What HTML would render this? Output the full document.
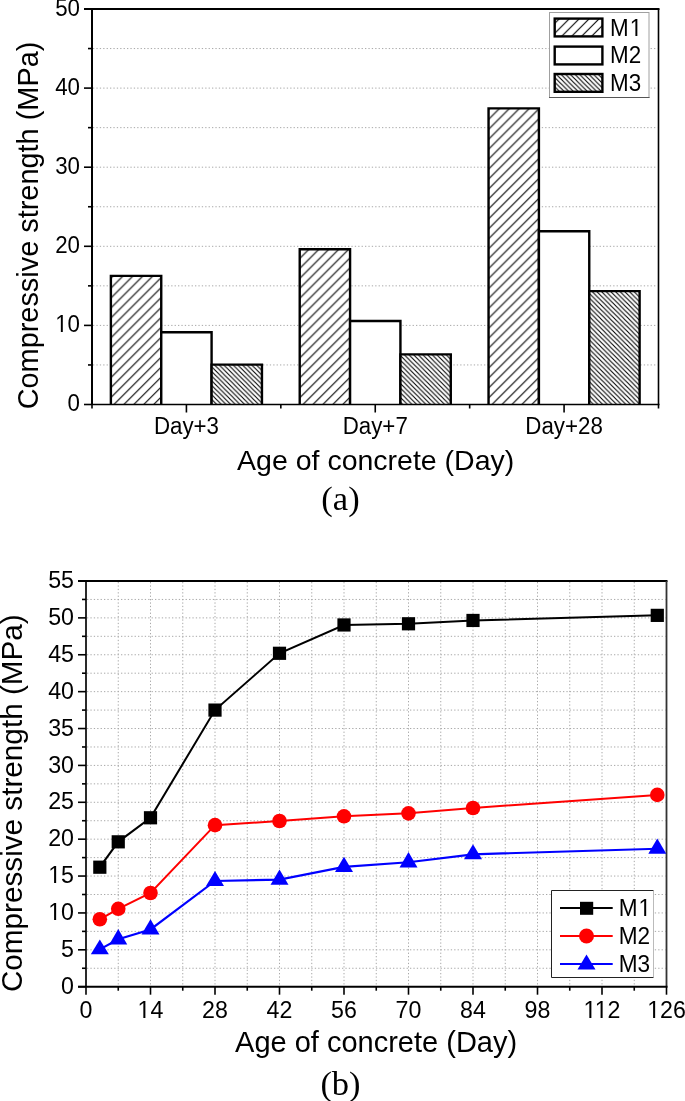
<!DOCTYPE html>
<html><head><meta charset="utf-8"><style>
html,body{margin:0;padding:0;background:#fff;width:685px;height:1101px;overflow:hidden}
svg{display:block;will-change:transform}
text{font-family:"Liberation Sans",sans-serif;fill:#000}
.tl{font-size:22.3px}
.tlb{font-size:23.2px}
.lgb{font-size:22.6px}
.lg{font-size:22.4px}
.at{font-size:28.5px}
.yt{font-size:29.7px}
.cap{font-family:"Liberation Serif",serif;font-size:34.5px}
.g{stroke:#a8a8a8;stroke-width:1;stroke-dasharray:1.3 2.1}
.ax{stroke:#000;stroke-width:2}
.axb{stroke:#000;stroke-width:1.6}
.tk{stroke:#000;stroke-width:1.6}
.bar{stroke:#000;stroke-width:2.4}
</style></head><body>
<svg width="685" height="1101" viewBox="0 0 685 1101">
<defs>
<pattern id="h1" patternUnits="userSpaceOnUse" width="9.95" height="9.95" patternTransform="translate(1.0,0)">
<rect width="9.95" height="9.95" fill="#fff"/>
<path d="M-2,11.95 L11.95,-2 M-2,2 L2,-2 M7.95,11.95 L11.95,7.95" stroke="#000" stroke-width="1.1"/>
</pattern>
<pattern id="h3" patternUnits="userSpaceOnUse" width="4.65" height="4.65" patternTransform="translate(3,0)">
<rect width="4.65" height="4.65" fill="#fff"/>
<path d="M-1,-1 L5.65,5.65 M-1,3.65 L1,5.65 M3.65,-1 L5.65,1" stroke="#000" stroke-width="1.1"/>
</pattern>
</defs>
<line x1="93" y1="364.95" x2="657.5" y2="364.95" class="g"/>
<line x1="93" y1="325.4" x2="657.5" y2="325.4" class="g"/>
<line x1="93" y1="285.85" x2="657.5" y2="285.85" class="g"/>
<line x1="93" y1="246.3" x2="657.5" y2="246.3" class="g"/>
<line x1="93" y1="206.75" x2="657.5" y2="206.75" class="g"/>
<line x1="93" y1="167.2" x2="657.5" y2="167.2" class="g"/>
<line x1="93" y1="127.65" x2="657.5" y2="127.65" class="g"/>
<line x1="93" y1="88.1" x2="657.5" y2="88.1" class="g"/>
<line x1="93" y1="48.55" x2="657.5" y2="48.55" class="g"/>
<path d="M110.88,404.5 V275.87 H161.24 V404.5" fill="url(#h1)" class="bar"/>
<path d="M161.24,404.5 V332.27 H211.59 V404.5" fill="#fff" class="bar"/>
<path d="M211.59,404.5 V364.62 H261.95 V404.5" fill="url(#h3)" class="bar"/>
<path d="M299.72,404.5 V249.21 H350.07 V404.5" fill="url(#h1)" class="bar"/>
<path d="M350.07,404.5 V320.95 H400.43 V404.5" fill="#fff" class="bar"/>
<path d="M400.43,404.5 V354.33 H450.78 V404.5" fill="url(#h3)" class="bar"/>
<path d="M488.55,404.5 V108.33 H538.91 V404.5" fill="url(#h1)" class="bar"/>
<path d="M538.91,404.5 V231.18 H589.26 V404.5" fill="#fff" class="bar"/>
<path d="M589.26,404.5 V291.13 H639.62 V404.5" fill="url(#h3)" class="bar"/>
<line x1="92" y1="9" x2="92" y2="404.5" class="ax"/>
<line x1="84" y1="9" x2="659.5" y2="9" class="ax"/>
<line x1="658.5" y1="9" x2="658.5" y2="404.5" class="axb"/>
<line x1="92" y1="404.5" x2="659.5" y2="404.5" class="axb"/>
<line x1="84" y1="404.5" x2="92" y2="404.5" class="tk"/>
<text transform="translate(80,411) scale(1,1.05)" class="tl" text-anchor="end">0</text>
<line x1="88" y1="364.95" x2="92" y2="364.95" class="tk"/>
<line x1="84" y1="325.4" x2="92" y2="325.4" class="tk"/>
<text transform="translate(80,331.9) scale(1,1.05)" class="tl" text-anchor="end">10</text>
<line x1="88" y1="285.85" x2="92" y2="285.85" class="tk"/>
<line x1="84" y1="246.3" x2="92" y2="246.3" class="tk"/>
<text transform="translate(80,252.8) scale(1,1.05)" class="tl" text-anchor="end">20</text>
<line x1="88" y1="206.75" x2="92" y2="206.75" class="tk"/>
<line x1="84" y1="167.2" x2="92" y2="167.2" class="tk"/>
<text transform="translate(80,173.7) scale(1,1.05)" class="tl" text-anchor="end">30</text>
<line x1="88" y1="127.65" x2="92" y2="127.65" class="tk"/>
<line x1="84" y1="88.1" x2="92" y2="88.1" class="tk"/>
<text transform="translate(80,94.6) scale(1,1.05)" class="tl" text-anchor="end">40</text>
<line x1="88" y1="48.55" x2="92" y2="48.55" class="tk"/>
<line x1="84" y1="9" x2="92" y2="9" class="tk"/>
<text transform="translate(80,15.5) scale(1,1.05)" class="tl" text-anchor="end">50</text>
<line x1="92" y1="404.5" x2="92" y2="408.5" class="tk"/>
<line x1="280.83" y1="404.5" x2="280.83" y2="408.5" class="tk"/>
<line x1="469.67" y1="404.5" x2="469.67" y2="408.5" class="tk"/>
<line x1="658.5" y1="404.5" x2="658.5" y2="408.5" class="tk"/>
<line x1="186.42" y1="404.5" x2="186.42" y2="412.5" class="tk"/>
<text transform="translate(186.42,433.6) scale(1,1.05)" class="tl" text-anchor="middle">Day+3</text>
<line x1="375.25" y1="404.5" x2="375.25" y2="412.5" class="tk"/>
<text transform="translate(375.25,433.6) scale(1,1.05)" class="tl" text-anchor="middle">Day+7</text>
<line x1="564.08" y1="404.5" x2="564.08" y2="412.5" class="tk"/>
<text transform="translate(564.08,433.6) scale(1,1.05)" class="tl" text-anchor="middle">Day+28</text>
<text x="375.7" y="469.8" class="at" text-anchor="middle">Age of concrete (Day)</text>
<text transform="translate(37.8,225.5) rotate(-90)" class="yt" style="font-size:28.9px" text-anchor="middle">Compressive strength (MPa)</text>
<text x="340.5" y="509.7" class="cap" text-anchor="middle">(a)</text>
<rect x="549.5" y="12.5" width="99.5" height="85" fill="#fff" stroke="#a0a0a0" stroke-width="1"/>
<line x1="549" y1="97.5" x2="649.5" y2="97.5" stroke="#555" stroke-width="1.2"/>
<rect x="554.7" y="18.6" width="47.7" height="17.8" fill="url(#h1)" class="bar"/>
<text transform="translate(610,35.7) scale(1,1.04)" class="lg" letter-spacing="1">M1</text>
<rect x="554.7" y="46.6" width="47.7" height="17.8" fill="#fff" class="bar"/>
<text transform="translate(610,62.8) scale(1,1.04)" class="lg">M2</text>
<rect x="554.7" y="74" width="47.7" height="17.8" fill="url(#h3)" class="bar"/>
<text transform="translate(610,90.5) scale(1,1.04)" class="lg">M3</text>
<line x1="118.25" y1="582" x2="118.25" y2="985.7" class="g"/>
<line x1="150.5" y1="582" x2="150.5" y2="985.7" class="g"/>
<line x1="182.75" y1="582" x2="182.75" y2="985.7" class="g"/>
<line x1="215" y1="582" x2="215" y2="985.7" class="g"/>
<line x1="247.25" y1="582" x2="247.25" y2="985.7" class="g"/>
<line x1="279.5" y1="582" x2="279.5" y2="985.7" class="g"/>
<line x1="311.75" y1="582" x2="311.75" y2="985.7" class="g"/>
<line x1="344" y1="582" x2="344" y2="985.7" class="g"/>
<line x1="376.25" y1="582" x2="376.25" y2="985.7" class="g"/>
<line x1="408.5" y1="582" x2="408.5" y2="985.7" class="g"/>
<line x1="440.75" y1="582" x2="440.75" y2="985.7" class="g"/>
<line x1="473" y1="582" x2="473" y2="985.7" class="g"/>
<line x1="505.25" y1="582" x2="505.25" y2="985.7" class="g"/>
<line x1="537.5" y1="582" x2="537.5" y2="985.7" class="g"/>
<line x1="569.75" y1="582" x2="569.75" y2="985.7" class="g"/>
<line x1="602" y1="582" x2="602" y2="985.7" class="g"/>
<line x1="634.25" y1="582" x2="634.25" y2="985.7" class="g"/>
<line x1="87" y1="968.26" x2="665.5" y2="968.26" class="g"/>
<line x1="87" y1="949.82" x2="665.5" y2="949.82" class="g"/>
<line x1="87" y1="931.38" x2="665.5" y2="931.38" class="g"/>
<line x1="87" y1="912.94" x2="665.5" y2="912.94" class="g"/>
<line x1="87" y1="894.5" x2="665.5" y2="894.5" class="g"/>
<line x1="87" y1="876.05" x2="665.5" y2="876.05" class="g"/>
<line x1="87" y1="857.61" x2="665.5" y2="857.61" class="g"/>
<line x1="87" y1="839.17" x2="665.5" y2="839.17" class="g"/>
<line x1="87" y1="820.73" x2="665.5" y2="820.73" class="g"/>
<line x1="87" y1="802.29" x2="665.5" y2="802.29" class="g"/>
<line x1="87" y1="783.85" x2="665.5" y2="783.85" class="g"/>
<line x1="87" y1="765.41" x2="665.5" y2="765.41" class="g"/>
<line x1="87" y1="746.97" x2="665.5" y2="746.97" class="g"/>
<line x1="87" y1="728.53" x2="665.5" y2="728.53" class="g"/>
<line x1="87" y1="710.09" x2="665.5" y2="710.09" class="g"/>
<line x1="87" y1="691.65" x2="665.5" y2="691.65" class="g"/>
<line x1="87" y1="673.2" x2="665.5" y2="673.2" class="g"/>
<line x1="87" y1="654.76" x2="665.5" y2="654.76" class="g"/>
<line x1="87" y1="636.32" x2="665.5" y2="636.32" class="g"/>
<line x1="87" y1="617.88" x2="665.5" y2="617.88" class="g"/>
<line x1="87" y1="599.44" x2="665.5" y2="599.44" class="g"/>
<line x1="86" y1="581" x2="86" y2="986.7" class="ax" style="stroke:#2a2a2a"/>
<line x1="78" y1="581" x2="667.5" y2="581" class="ax"/>
<line x1="666.5" y1="581" x2="666.5" y2="986.7" class="ax" style="stroke:#333;stroke-width:1.8"/>
<line x1="78" y1="986.7" x2="667.5" y2="986.7" class="ax"/>
<line x1="78" y1="986.7" x2="86" y2="986.7" class="tk"/>
<text transform="translate(74,993.9) scale(1,1.03)" class="tlb" text-anchor="end">0</text>
<line x1="82" y1="968.26" x2="86" y2="968.26" class="tk"/>
<line x1="78" y1="949.82" x2="86" y2="949.82" class="tk"/>
<text transform="translate(74,957.02) scale(1,1.03)" class="tlb" text-anchor="end">5</text>
<line x1="82" y1="931.38" x2="86" y2="931.38" class="tk"/>
<line x1="78" y1="912.94" x2="86" y2="912.94" class="tk"/>
<text transform="translate(74,920.14) scale(1,1.03)" class="tlb" text-anchor="end">10</text>
<line x1="82" y1="894.5" x2="86" y2="894.5" class="tk"/>
<line x1="78" y1="876.05" x2="86" y2="876.05" class="tk"/>
<text transform="translate(74,883.25) scale(1,1.03)" class="tlb" text-anchor="end">15</text>
<line x1="82" y1="857.61" x2="86" y2="857.61" class="tk"/>
<line x1="78" y1="839.17" x2="86" y2="839.17" class="tk"/>
<text transform="translate(74,846.37) scale(1,1.03)" class="tlb" text-anchor="end">20</text>
<line x1="82" y1="820.73" x2="86" y2="820.73" class="tk"/>
<line x1="78" y1="802.29" x2="86" y2="802.29" class="tk"/>
<text transform="translate(74,809.49) scale(1,1.03)" class="tlb" text-anchor="end">25</text>
<line x1="82" y1="783.85" x2="86" y2="783.85" class="tk"/>
<line x1="78" y1="765.41" x2="86" y2="765.41" class="tk"/>
<text transform="translate(74,772.61) scale(1,1.03)" class="tlb" text-anchor="end">30</text>
<line x1="82" y1="746.97" x2="86" y2="746.97" class="tk"/>
<line x1="78" y1="728.53" x2="86" y2="728.53" class="tk"/>
<text transform="translate(74,735.73) scale(1,1.03)" class="tlb" text-anchor="end">35</text>
<line x1="82" y1="710.09" x2="86" y2="710.09" class="tk"/>
<line x1="78" y1="691.65" x2="86" y2="691.65" class="tk"/>
<text transform="translate(74,698.85) scale(1,1.03)" class="tlb" text-anchor="end">40</text>
<line x1="82" y1="673.2" x2="86" y2="673.2" class="tk"/>
<line x1="78" y1="654.76" x2="86" y2="654.76" class="tk"/>
<text transform="translate(74,661.96) scale(1,1.03)" class="tlb" text-anchor="end">45</text>
<line x1="82" y1="636.32" x2="86" y2="636.32" class="tk"/>
<line x1="78" y1="617.88" x2="86" y2="617.88" class="tk"/>
<text transform="translate(74,625.08) scale(1,1.03)" class="tlb" text-anchor="end">50</text>
<line x1="82" y1="599.44" x2="86" y2="599.44" class="tk"/>
<line x1="78" y1="581" x2="86" y2="581" class="tk"/>
<text transform="translate(74,588.2) scale(1,1.03)" class="tlb" text-anchor="end">55</text>
<line x1="86" y1="986.7" x2="86" y2="994.7" class="tk"/>
<text transform="translate(86,1017.5) scale(1,1.03)" class="tlb" text-anchor="middle">0</text>
<line x1="118.25" y1="986.7" x2="118.25" y2="990.7" class="tk"/>
<line x1="150.5" y1="986.7" x2="150.5" y2="994.7" class="tk"/>
<text transform="translate(150.5,1017.5) scale(1,1.03)" class="tlb" text-anchor="middle">14</text>
<line x1="182.75" y1="986.7" x2="182.75" y2="990.7" class="tk"/>
<line x1="215" y1="986.7" x2="215" y2="994.7" class="tk"/>
<text transform="translate(215,1017.5) scale(1,1.03)" class="tlb" text-anchor="middle">28</text>
<line x1="247.25" y1="986.7" x2="247.25" y2="990.7" class="tk"/>
<line x1="279.5" y1="986.7" x2="279.5" y2="994.7" class="tk"/>
<text transform="translate(279.5,1017.5) scale(1,1.03)" class="tlb" text-anchor="middle">42</text>
<line x1="311.75" y1="986.7" x2="311.75" y2="990.7" class="tk"/>
<line x1="344" y1="986.7" x2="344" y2="994.7" class="tk"/>
<text transform="translate(344,1017.5) scale(1,1.03)" class="tlb" text-anchor="middle">56</text>
<line x1="376.25" y1="986.7" x2="376.25" y2="990.7" class="tk"/>
<line x1="408.5" y1="986.7" x2="408.5" y2="994.7" class="tk"/>
<text transform="translate(408.5,1017.5) scale(1,1.03)" class="tlb" text-anchor="middle">70</text>
<line x1="440.75" y1="986.7" x2="440.75" y2="990.7" class="tk"/>
<line x1="473" y1="986.7" x2="473" y2="994.7" class="tk"/>
<text transform="translate(473,1017.5) scale(1,1.03)" class="tlb" text-anchor="middle">84</text>
<line x1="505.25" y1="986.7" x2="505.25" y2="990.7" class="tk"/>
<line x1="537.5" y1="986.7" x2="537.5" y2="994.7" class="tk"/>
<text transform="translate(537.5,1017.5) scale(1,1.03)" class="tlb" text-anchor="middle">98</text>
<line x1="569.75" y1="986.7" x2="569.75" y2="990.7" class="tk"/>
<line x1="602" y1="986.7" x2="602" y2="994.7" class="tk"/>
<text transform="translate(602,1017.5) scale(1,1.03)" class="tlb" text-anchor="middle">112</text>
<line x1="634.25" y1="986.7" x2="634.25" y2="990.7" class="tk"/>
<line x1="666.5" y1="986.7" x2="666.5" y2="994.7" class="tk"/>
<text transform="translate(666.5,1017.5) scale(1,1.03)" class="tlb" text-anchor="middle">126</text>
<text x="376.1" y="1052.3" class="at" style="font-size:29px" text-anchor="middle">Age of concrete (Day)</text>
<text transform="translate(21.8,803.2) rotate(-90)" class="yt" text-anchor="middle">Compressive strength (MPa)</text>
<text x="340.5" y="1094.9" class="cap" text-anchor="middle">(b)</text>
<polyline points="99.82,867.2 118.25,841.83 150.5,817.78 215,710.09 279.5,653.29 344,624.96 408.5,623.78 473,620.46 657.29,615.37" fill="none" stroke="#000" stroke-width="2"/>
<polyline points="99.82,919.28 118.25,908.81 150.5,893.02 215,825.16 279.5,821.03 344,816.31 408.5,813.36 473,807.97 657.29,794.91" fill="none" stroke="#f00" stroke-width="2"/>
<polyline points="99.82,949.4 118.25,939.3 150.5,929.5 215,880.97 279.5,879.67 344,866.83 408.5,862.27 473,854.3 657.29,848.73" fill="none" stroke="#00f" stroke-width="2.2"/>
<rect x="93.22" y="860.6" width="13.2" height="13.2" fill="#000"/>
<rect x="111.65" y="835.23" width="13.2" height="13.2" fill="#000"/>
<rect x="143.9" y="811.18" width="13.2" height="13.2" fill="#000"/>
<rect x="208.4" y="703.49" width="13.2" height="13.2" fill="#000"/>
<rect x="272.9" y="646.69" width="13.2" height="13.2" fill="#000"/>
<rect x="337.4" y="618.36" width="13.2" height="13.2" fill="#000"/>
<rect x="401.9" y="617.18" width="13.2" height="13.2" fill="#000"/>
<rect x="466.4" y="613.86" width="13.2" height="13.2" fill="#000"/>
<rect x="650.69" y="608.77" width="13.2" height="13.2" fill="#000"/>
<circle cx="99.82" cy="919.28" r="7.3" fill="#f00"/>
<circle cx="118.25" cy="908.81" r="7.3" fill="#f00"/>
<circle cx="150.5" cy="893.02" r="7.3" fill="#f00"/>
<circle cx="215" cy="825.16" r="7.3" fill="#f00"/>
<circle cx="279.5" cy="821.03" r="7.3" fill="#f00"/>
<circle cx="344" cy="816.31" r="7.3" fill="#f00"/>
<circle cx="408.5" cy="813.36" r="7.3" fill="#f00"/>
<circle cx="473" cy="807.97" r="7.3" fill="#f00"/>
<circle cx="657.29" cy="794.91" r="7.3" fill="#f00"/>
<polygon points="99.82,939.6 108.82,954.3 90.82,954.3" fill="#00f"/>
<polygon points="118.25,929.1 127.25,944.4 109.25,944.4" fill="#00f"/>
<polygon points="150.5,919.3 159.5,934.6 141.5,934.6" fill="#00f"/>
<polygon points="215,871.1 224,885.9 206,885.9" fill="#00f"/>
<polygon points="279.5,869.6 288.5,884.7 270.5,884.7" fill="#00f"/>
<polygon points="344,856.7 353,871.9 335,871.9" fill="#00f"/>
<polygon points="408.5,852 417.5,867.4 399.5,867.4" fill="#00f"/>
<polygon points="473,844.3 482,859.3 464,859.3" fill="#00f"/>
<polygon points="657.29,838.6 666.29,853.8 648.29,853.8" fill="#00f"/>
<rect x="551.5" y="890.5" width="102" height="87" fill="#fff"/>
<path d="M653.5,890.5 H551.5 V977.5 H653.5" fill="none" stroke="#222" stroke-width="1"/>
<line x1="653.5" y1="891" x2="653.5" y2="977" stroke="#bbb" stroke-width="1"/>
<line x1="560" y1="908.1" x2="612.7" y2="908.1" stroke="#000" stroke-width="2"/>
<rect x="580" y="901.8" width="13.2" height="13" fill="#000"/>
<line x1="560" y1="936" x2="612.7" y2="936" stroke="#f00" stroke-width="2"/>
<circle cx="586.5" cy="936" r="7.5" fill="#f00"/>
<line x1="560" y1="964.1" x2="612.7" y2="964.1" stroke="#00f" stroke-width="2"/>
<polygon points="586.5,954.4 595.5,969.6 577.5,969.6" fill="#00f"/>
<text transform="translate(618.8,916.0) scale(1,1.03)" class="lgb" letter-spacing="0.8">M1</text>
<text transform="translate(618.8,944.1) scale(1,1.03)" class="lgb">M2</text>
<text transform="translate(618.8,972.2) scale(1,1.03)" class="lgb">M3</text>
<rect x="55" y="330" width="5" height="2" fill="#ffffff"/>
<rect x="60" y="330" width="1" height="2" fill="#dbdbdb"/>
<rect x="61" y="330" width="1" height="2" fill="#000000"/>
<rect x="62" y="330" width="1" height="2" fill="#333333"/>
<rect x="63" y="330" width="5" height="2" fill="#ffffff"/>
<rect x="630" y="34" width="5" height="2" fill="#ffffff"/>
<rect x="635" y="34" width="1" height="2" fill="#656565"/>
<rect x="636" y="34" width="1" height="2" fill="#000000"/>
<rect x="637" y="34" width="1" height="2" fill="#a6a6a6"/>
<rect x="638" y="34" width="5" height="2" fill="#ffffff"/>
<rect x="48" y="918" width="6" height="2" fill="#ffffff"/>
<rect x="54" y="918" width="1" height="2" fill="#171717"/>
<rect x="55" y="918" width="1" height="2" fill="#000000"/>
<rect x="56" y="918" width="1" height="2" fill="#dcdcdc"/>
<rect x="57" y="918" width="4" height="2" fill="#ffffff"/>
<rect x="48" y="881" width="6" height="2" fill="#ffffff"/>
<rect x="54" y="881" width="1" height="2" fill="#171717"/>
<rect x="55" y="881" width="1" height="2" fill="#000000"/>
<rect x="56" y="881" width="1" height="2" fill="#dcdcdc"/>
<rect x="57" y="881" width="4" height="2" fill="#ffffff"/>
<rect x="138" y="1016" width="5" height="2" fill="#ffffff"/>
<rect x="143" y="1016" width="1" height="2" fill="#575757"/>
<rect x="144" y="1016" width="1" height="2" fill="#000000"/>
<rect x="145" y="1016" width="1" height="2" fill="#9d9d9d"/>
<rect x="146" y="1016" width="5" height="2" fill="#ffffff"/>
<rect x="584" y="1016" width="5" height="2" fill="#ffffff"/>
<rect x="589" y="1016" width="1" height="2" fill="#575757"/>
<rect x="590" y="1016" width="1" height="2" fill="#000000"/>
<rect x="591" y="1016" width="1" height="2" fill="#9d9d9d"/>
<rect x="592" y="1016" width="5" height="2" fill="#ffffff"/>
<rect x="595" y="1016" width="5" height="2" fill="#ffffff"/>
<rect x="600" y="1016" width="1" height="2" fill="#949494"/>
<rect x="601" y="1016" width="1" height="2" fill="#000000"/>
<rect x="602" y="1016" width="1" height="2" fill="#606060"/>
<rect x="603" y="1016" width="5" height="2" fill="#ffffff"/>
<rect x="647" y="1016" width="6" height="2" fill="#ffffff"/>
<rect x="653" y="1016" width="1" height="2" fill="#171717"/>
<rect x="654" y="1016" width="1" height="2" fill="#000000"/>
<rect x="655" y="1016" width="1" height="2" fill="#dcdcdc"/>
<rect x="656" y="1016" width="4" height="2" fill="#ffffff"/>
<rect x="639" y="914" width="5" height="2" fill="#ffffff"/>
<rect x="644" y="914" width="1" height="2" fill="#313131"/>
<rect x="645" y="914" width="1" height="2" fill="#000000"/>
<rect x="646" y="914" width="1" height="2" fill="#d2d2d2"/>
<rect x="647" y="914" width="4" height="2" fill="#ffffff"/>
</svg>
</body></html>
